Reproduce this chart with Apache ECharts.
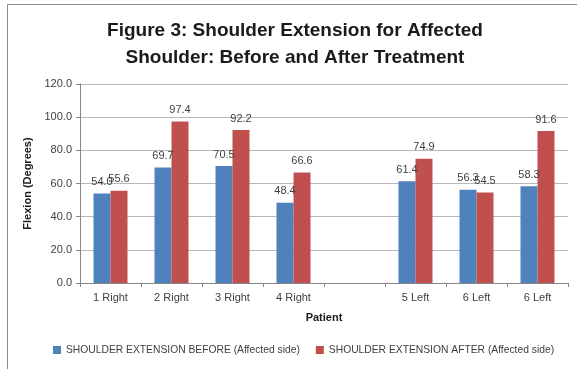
<!DOCTYPE html>
<html>
<head>
<meta charset="utf-8">
<script src="https://cdn.jsdelivr.net/npm/echarts@6/dist/echarts.min.js"></script>
<style>
  html, body { margin: 0; padding: 0; background: #fff; }
  #chart { width: 577px; height: 369px; }
</style>
</head>
<body>
<div id="chart"></div>
<script>
// Patients (blank slot separates right- and left-side cases)
const patients = ['1 Right', '2 Right', '3 Right', '4 Right', '', '5 Left', '6 Left', '6 Left'];
const extensionBefore = [54.0, 69.7, 70.5, 48.4, null, 61.4, 56.3, 58.3];
const extensionAfter  = [55.6, 97.4, 92.2, 66.6, null, 74.9, 54.5, 91.6];
const seriesNames = ['SHOULDER EXTENSION BEFORE (Affected side)', 'SHOULDER EXTENSION AFTER (Affected side)'];

const font = '"Liberation Sans", Arial, sans-serif';
const chart = echarts.init(document.getElementById('chart'), null, { renderer: 'canvas' });

const valueLabel = {
  show: true,
  position: 'top',
  distance: 6,
  color: '#404040',
  fontFamily: font,
  fontSize: 11,
  formatter: p => (p.value == null ? '' : Number(p.value).toFixed(1))
};

chart.setOption({
  animation: false,
  backgroundColor: '#fff',
  textStyle: { fontFamily: font },
  graphic: [{
    type: 'rect',
    shape: { x: 7.5, y: 4.5, width: 620, height: 420 },
    style: { fill: null, stroke: '#8c8c8c', lineWidth: 1 },
    silent: true
  }],
  title: {
    text: 'Figure 3: Shoulder Extension for Affected\nShoulder: Before and After Treatment',
    left: 290,
    textAlign: 'center',
    top: 12,
    textStyle: {
      fontFamily: font,
      fontWeight: 'bold',
      fontSize: 19,
      lineHeight: 27,
      color: '#1a1a1a'
    }
  },
  legend: {
    bottom: 9,
    left: 48,
    itemWidth: 8,
    itemHeight: 8,
    itemGap: 16,
    icon: 'rect',
    textStyle: { fontFamily: font, fontSize: 10.3, color: '#404040' },
    data: seriesNames
  },
  grid: { left: 80, right: 9, top: 84, bottom: 86 },
  xAxis: {
    type: 'category',
    data: patients,
    name: 'Patient',
    nameLocation: 'middle',
    nameGap: 29,
    nameTextStyle: { fontFamily: font, fontWeight: 'bold', fontSize: 11, color: '#1a1a1a' },
    axisLine: { lineStyle: { color: '#868686' } },
    axisTick: { show: true, alignWithLabel: false, length: 4, lineStyle: { color: '#868686' } },
    axisLabel: { fontFamily: font, fontSize: 11, color: '#404040', margin: 9, interval: 0 }
  },
  yAxis: {
    type: 'value',
    min: 0,
    max: 120,
    interval: 20,
    name: 'Flexion (Degrees)',
    nameLocation: 'middle',
    nameGap: 41,
    nameTextStyle: { fontFamily: font, fontWeight: 'bold', fontSize: 11, color: '#1a1a1a' },
    axisLine: { show: true, lineStyle: { color: '#868686' } },
    axisTick: { show: true, length: 4, lineStyle: { color: '#868686' } },
    splitLine: { lineStyle: { color: '#b8b8b8' } },
    axisLabel: {
      fontFamily: font, fontSize: 11, color: '#404040', margin: 8,
      formatter: v => v.toFixed(1)
    }
  },
  series: [
    {
      name: seriesNames[0],
      type: 'bar',
      data: extensionBefore,
      barWidth: 17,
      barGap: '0%',
      itemStyle: { color: '#4F81BD' },
      label: valueLabel
    },
    {
      name: seriesNames[1],
      type: 'bar',
      data: extensionAfter,
      barWidth: 17,
      barGap: '0%',
      itemStyle: { color: '#C0504D' },
      label: valueLabel
    }
  ]
});
</script>
</body>
</html>
